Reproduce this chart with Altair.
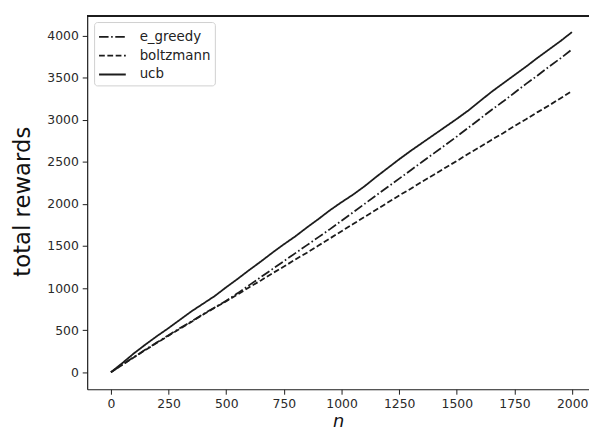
import altair as alt
import pandas as pd

methods = ["e_greedy", "boltzmann", "ucb"]
n_values = [0, 50, 100, 150, 200, 250, 300, 350, 400, 450, 500, 550, 600, 650, 700,
            750, 800, 850, 900, 950, 1000, 1050, 1100, 1150, 1200, 1250, 1300, 1350,
            1400, 1450, 1500, 1550, 1600, 1650, 1700, 1750, 1800, 1850, 1900, 1950, 1999]
e_greedy = [0, 92, 180, 270, 355, 440, 525, 605, 690, 770, 850, 940, 1035, 1130, 1225,
            1320, 1415, 1510, 1605, 1700, 1800, 1900, 2000, 2100, 2200, 2300, 2400, 2500,
            2600, 2700, 2800, 2905, 3010, 3115, 3215, 3320, 3425, 3525, 3630, 3730, 3835]
boltzmann = [0, 90, 178, 265, 350, 435, 518, 600, 685, 765, 845, 925, 1010, 1090, 1175,
             1255, 1340, 1420, 1505, 1590, 1675, 1760, 1845, 1930, 2015, 2100, 2180, 2265,
             2345, 2430, 2510, 2595, 2675, 2760, 2840, 2925, 3005, 3090, 3170, 3255, 3340]
ucb = [0, 110, 225, 330, 430, 525, 625, 725, 815, 905, 1010, 1110, 1215, 1315, 1420,
       1520, 1615, 1720, 1820, 1925, 2020, 2110, 2210, 2320, 2425, 2530, 2630, 2725,
       2820, 2915, 3010, 3110, 3220, 3330, 3430, 3530, 3630, 3735, 3835, 3935, 4040]
x_ticks = [0, 250, 500, 750, 1000, 1250, 1500, 1750, 2000]
y_ticks = [0, 500, 1000, 1500, 2000, 2500, 3000, 3500, 4000]

series = {"e_greedy": e_greedy, "boltzmann": boltzmann, "ucb": ucb}
rows = []
for m in methods:
    for n, v in zip(n_values, series[m]):
        rows.append({"n": n, "reward": v, "method": m})
df = pd.DataFrame(rows)

W, H = 507, 378
FONT = "DejaVu Sans"
INK = "#1c1c1c"

lines = alt.Chart(df).mark_line(strokeWidth=1.8, color=INK).encode(
    x=alt.X("n:Q", scale=alt.Scale(domain=[-103, 2073], nice=False, zero=False),
            axis=alt.Axis(values=x_ticks, format="d", title="n",
                          titleFontStyle="italic", titleFontSize=18,
                          titleFontWeight="normal", labelPadding=3,
                          titleY=38, titleBaseline="alphabetic")),
    y=alt.Y("reward:Q", scale=alt.Scale(domain=[-202, 4242], nice=False, zero=False),
            axis=alt.Axis(values=y_ticks, format="d", title="total rewards",
                          titleFontSize=23, titleFontWeight="normal",
                          titleX=-58.5, titleY=H / 2 - 1,
                          titleAlign="center", titleBaseline="alphabetic")),
    strokeDash=alt.StrokeDash(
        "method:N",
        sort=methods,
        scale=alt.Scale(domain=methods,
                        range=[[9.6, 2.6, 1.6, 2.6], [5.8, 2.6], [1, 0]]),
        legend=alt.Legend(title=None, orient="none", legendX=7, legendY=7,
                          symbolType="M-1,0L1.7,0", symbolSize=400,
                          symbolStrokeWidth=1.8, symbolStrokeColor=INK,
                          symbolFillColor="transparent",
                          labelFont=FONT, labelFontSize=13.5, labelColor="#222",
                          labelOffset=20, padding=4, rowPadding=1,
                          strokeColor="#cfcfcf", fillColor="white", cornerRadius=3),
    ),
    order=alt.Order("n:Q"),
)

top_border = alt.Chart(df).mark_rule(color=INK, strokeWidth=1.2).encode(
    x=alt.value(0), x2=alt.value(W), y=alt.value(0.5)
)

chart = alt.layer(lines, top_border).properties(
    width=W, height=H,
    autosize=alt.AutoSizeParams(type="none"),
    padding={"left": 80, "top": 5, "right": 0, "bottom": 42},
    background="white",
).configure_view(stroke=None).configure_axis(
    grid=False, domainColor=INK, domainWidth=1.2, tickColor=INK, tickSize=5,
    tickWidth=1, labelFont=FONT, labelFontSize=12.5, labelColor="#2a2a2a",
    titleFont=FONT, titleColor="#111", labelPadding=4,
)

chart.save("out.html", embed_options={"renderer": "svg", "actions": False})
